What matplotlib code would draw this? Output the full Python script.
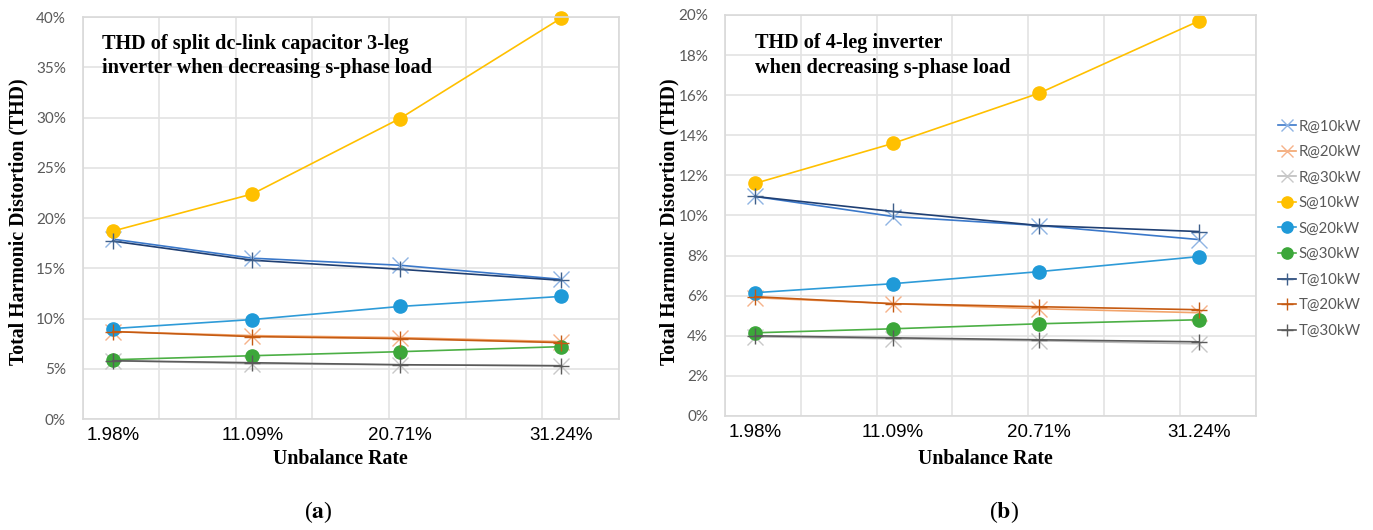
import matplotlib.pyplot as plt
from matplotlib.ticker import FuncFormatter, MultipleLocator

# unbalance rate (%) on a numeric x axis
rates = [1.98, 11.09, 20.71, 31.24]
rate_labels = ["1.98%", "11.09%", "20.71%", "31.24%"]

# (a) split dc-link capacitor 3-leg inverter, THD in %
a_R10 = [17.9, 16.0, 15.3, 13.9]
a_R20 = [8.7, 8.3, 8.1, 7.7]
a_R30 = [5.8, 5.5, 5.4, 5.3]
a_S10 = [18.7, 22.4, 29.9, 39.9]
a_S20 = [9.0, 9.9, 11.2, 12.2]
a_S30 = [5.9, 6.3, 6.7, 7.2]
a_T10 = [17.7, 15.8, 14.9, 13.8]
a_T20 = [8.7, 8.2, 8.0, 7.6]
a_T30 = [5.8, 5.6, 5.4, 5.3]

# (b) 4-leg inverter, THD in %
b_R10 = [10.95, 9.95, 9.5, 8.8]
b_R20 = [5.9, 5.6, 5.35, 5.15]
b_R30 = [3.95, 3.85, 3.75, 3.6]
b_S10 = [11.6, 13.6, 16.1, 19.7]
b_S20 = [6.15, 6.6, 7.2, 7.95]
b_S30 = [4.15, 4.35, 4.6, 4.8]
b_T10 = [10.95, 10.2, 9.5, 9.2]
b_T20 = [5.95, 5.6, 5.45, 5.3]
b_T30 = [4.0, 3.9, 3.8, 3.7]

names = ["R@10kW", "R@20kW", "R@30kW", "S@10kW", "S@20kW", "S@30kW",
         "T@10kW", "T@20kW", "T@30kW"]

# line colour, marker, marker colour
styles = [
    ("#3b78c9", "x", "#8fb4e3"),
    ("#f2a46c", "x", "#f6b28a"),
    ("#bdbdbd", "x", "#c8c8c8"),
    ("#ffc000", "o", "#ffc000"),
    ("#2e9bd8", "o", "#1f9ad8"),
    ("#4caf45", "o", "#3ca73a"),
    ("#1f3f73", "+", "#3e5f8a"),
    ("#c55a11", "+", "#c55a11"),
    ("#5a5a5a", "+", "#5a5a5a"),
]

serif = "Liberation Serif"
tick_gray = "#595959"

fig = plt.figure(figsize=(13.73, 5.30), dpi=100)
ax_a = fig.add_axes([0.0601, 0.2094, 0.3907, 0.7585])
ax_b = fig.add_axes([0.5280, 0.2151, 0.3867, 0.7566])


def draw(ax, series, ymax, ystep):
    for vals, name, (lc, mk, mc) in zip(series, names, styles):
        if mk == "o":
            ax.plot(rates, vals, color=lc, lw=1.2, marker="o", ms=9.5,
                    mfc=mc, mec=mc, label=name, clip_on=False)
        else:
            ax.plot(rates, vals, color=lc, lw=1.2, marker=mk, ms=11,
                    mew=1.0, mec=mc, label=name, clip_on=False)
    ax.set_xlim(0, 35)
    ax.set_ylim(0, ymax)
    ax.set_xticks(rates)
    ax.set_xticklabels(rate_labels, family="Liberation Sans", fontsize=13.5)
    ax.xaxis.set_minor_locator(MultipleLocator(5))
    ax.yaxis.set_major_locator(MultipleLocator(ystep))
    ax.yaxis.set_major_formatter(FuncFormatter(lambda v, p: f"{v:.0f}%"))
    ax.tick_params(axis="x", which="both", length=0, pad=6, colors="black")
    ax.tick_params(axis="y", length=0, pad=12, labelsize=11, colors=tick_gray)
    for lab in ax.get_yticklabels():
        lab.set_family("Lato")
    ax.grid(False)
    ax.grid(True, axis="y", which="major", color="#e3e3e3", lw=1.2)
    ax.grid(True, axis="x", which="minor", color="#e3e3e3", lw=1.2)
    ax.set_axisbelow(True)
    for s in ax.spines.values():
        s.set_color("#d9d9d9")
        s.set_linewidth(1.2)


draw(ax_a, [a_R10, a_R20, a_R30, a_S10, a_S20, a_S30, a_T10, a_T20, a_T30], 40, 5)
draw(ax_b, [b_R10, b_R20, b_R30, b_S10, b_S20, b_S30, b_T10, b_T20, b_T30], 20, 2)

ax_a.text(0.036, 0.958, "THD of split dc-link capacitor 3-leg\ninverter when decreasing s-phase load",
          transform=ax_a.transAxes, ha="left", va="top", family=serif,
          fontweight="bold", fontsize=14.6, linespacing=1.3)
ax_b.text(0.0565, 0.954, "THD of 4-leg inverter\nwhen decreasing s-phase load",
          transform=ax_b.transAxes, ha="left", va="top", family=serif,
          fontweight="bold", fontsize=14.6, linespacing=1.3)

# axis titles and panel tags
for x in (18 / 1373, 669 / 1373):
    fig.text(x, 1 - 222 / 530, "Total Harmonic Distortion (THD)", rotation=90,
             ha="center", va="center", family=serif, fontweight="bold", fontsize=14.3)
for x in (340 / 1373, 985 / 1373):
    fig.text(x, 1 - 459 / 530, "Unbalance Rate", ha="center", va="center",
             family=serif, fontweight="bold", fontsize=14.3)
fig.text(318 / 1373, 1 - 512 / 530, r"($\mathbf{a}$)", ha="center", va="center",
         family=serif, fontsize=17, math_fontfamily="stix")
fig.text(1004 / 1373, 1 - 512 / 530, r"($\mathbf{b}$)", ha="center", va="center",
         family=serif, fontsize=17, math_fontfamily="stix")

handles, labels = ax_b.get_legend_handles_labels()
leg = fig.legend(handles, labels, loc="upper left",
                 bbox_to_anchor=(1264 / 1373, 1 - 106 / 530), frameon=False,
                 prop={"family": "Lato", "size": 10.8}, handlelength=1.2,
                 handletextpad=0.2, labelspacing=0.77, markerscale=0.85)
for t in leg.get_texts():
    t.set_color(tick_gray)

fig.savefig("out.png", dpi=100)
